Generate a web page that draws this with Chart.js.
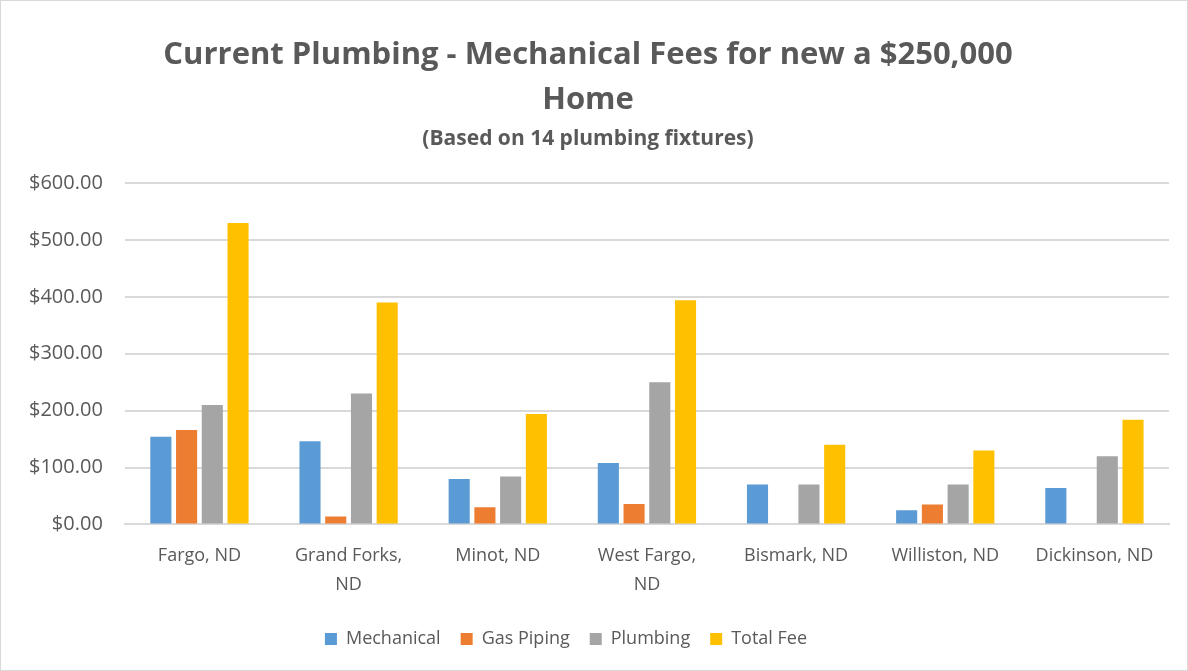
<!DOCTYPE html>
<html>
<head>
<meta charset="utf-8">
<script src="https://cdn.jsdelivr.net/npm/chart.js@4/dist/chart.umd.min.js"></script>
<style>
  html, body { margin: 0; padding: 0; background: #fff; }
  #wrap { width: 1186px; height: 669px; border: 1px solid #d9d9d9; position: relative; }
  canvas { display: block; }
</style>
</head>
<body>
<div id="wrap"><canvas id="fees" width="1186" height="669"></canvas></div>
<script>
// Fees per city
const cities = ['Fargo, ND', ['Grand Forks,', 'ND'], 'Minot, ND', ['West Fargo,', 'ND'],
                'Bismark, ND', 'Williston, ND', 'Dickinson, ND'];
const mechanical = [154, 146, 80, 108, 70, 25, 64];
const gasPiping  = [166, 14, 30, 36, 0, 35, 0];
const plumbing   = [210, 230, 84, 250, 70, 70, 120];
const totalFee   = [530, 390, 194, 394, 140, 130, 184];

const TEXT = '#595959';
const GRID = '#d9d9d9';
const FONT = "'Open Sans', sans-serif";

// Excel centres the legend a bit left of the canvas middle
const shiftLegend = {
  id: 'shiftLegend',
  afterLayout(chart) {
    const lg = chart.legend;
    if (lg) { lg.left -= 22; lg.right -= 22; }
  }
};

new Chart(document.getElementById('fees'), {
  type: 'bar',
  data: {
    labels: cities,
    datasets: [
      { label: 'Mechanical', data: mechanical, backgroundColor: '#5b9bd5' },
      { label: 'Gas Piping', data: gasPiping, backgroundColor: '#ed7d31' },
      { label: 'Plumbing', data: plumbing, backgroundColor: '#a5a5a5' },
      { label: 'Total Fee', data: totalFee, backgroundColor: '#ffc000' }
    ]
  },
  plugins: [shiftLegend],
  options: {
    responsive: false,
    animation: false,
    devicePixelRatio: 1,
    layout: { padding: { top: 22, left: 6, right: 18, bottom: 12 } },
    datasets: { bar: { categoryPercentage: 0.69, barPercentage: 0.82 } },
    plugins: {
      title: {
        display: true,
        text: ['Current Plumbing - Mechanical Fees for new a $250,000', 'Home'],
        color: TEXT,
        font: { family: FONT, size: 31, weight: 'bold', lineHeight: 1.45 },
        padding: { top: 10, bottom: 2 }
      },
      subtitle: {
        display: true,
        text: '(Based on 14 plumbing fixtures)',
        color: TEXT,
        font: { family: FONT, size: 21, weight: 'bold' },
        padding: { top: 2, bottom: 31 }
      },
      legend: {
        position: 'bottom',
        labels: {
          color: TEXT,
          font: { family: FONT, size: 18 },
          boxWidth: 12, boxHeight: 12, padding: 20
        }
      },
      tooltip: { enabled: false }
    },
    scales: {
      x: {
        grid: { display: false },
        border: { color: GRID, width: 2 },
        ticks: { color: TEXT, font: { family: FONT, size: 18, lineHeight: 1.6 }, maxRotation: 0, padding: 9 },
        afterFit: s => { s.height += 2; }
      },
      y: {
        min: 0, max: 600,
        grid: { color: GRID, lineWidth: 2, drawTicks: false },
        border: { display: false },
        ticks: {
          stepSize: 100, color: TEXT, padding: 22,
          font: { family: FONT, size: 20 },
          callback: v => '$' + v.toFixed(2)
        }
      }
    }
  }
});
</script>
</body>
</html>
